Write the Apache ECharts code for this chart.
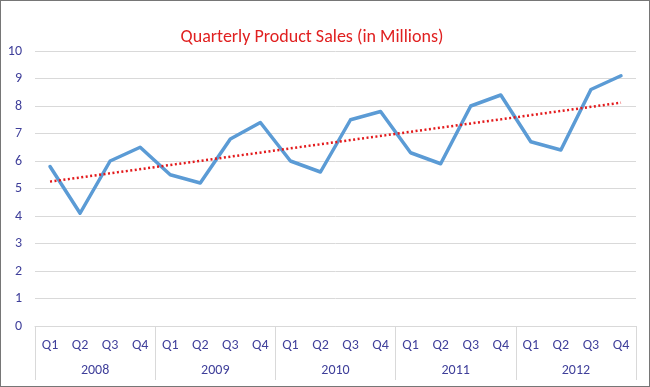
<!DOCTYPE html>
<html>
<head>
<meta charset="utf-8">
<script src="https://cdn.jsdelivr.net/npm/echarts@6/dist/echarts.min.js"></script>
<style>
html,body{margin:0;padding:0;background:#fff;}
#c{width:648px;height:385px;border:1px solid #767676;}
</style>
</head>
<body>
<div id="c"></div>
<script>
const quarters = ['Q1','Q2','Q3','Q4','Q1','Q2','Q3','Q4','Q1','Q2','Q3','Q4','Q1','Q2','Q3','Q4','Q1','Q2','Q3','Q4'];
const years = ['2008','2009','2010','2011','2012'];
const sales = [5.8,4.1,6.0,6.5, 5.5,5.2,6.8,7.4, 6.0,5.6,7.5,7.8, 6.3,5.9,8.0,8.4, 6.7,6.4,8.6,9.1];
const trendStart = 5.25;
const trendEnd = 8.12;
const yTicks = {min:0, max:10, interval:1};

const trend = quarters.map((q,i)=> i===0 ? trendStart : (i===quarters.length-1 ? trendEnd : null));
const font = "Carlito, 'Liberation Sans', sans-serif";
const labelColor = '#3f3f9a';

const chart = echarts.init(document.getElementById('c'));
chart.setOption({
  animation:false,
  title:{text:'Quarterly Product Sales (in Millions)', left:306, top:22, textAlign:'center',
    textStyle:{color:'#e02020', fontSize:18, fontWeight:'normal', fontFamily:font}},
  grid:{left:34, right:13, top:50, bottom:60, containLabel:false},
  xAxis:[{
    type:'category', data:quarters, boundaryGap:true,
    axisLine:{lineStyle:{color:'#d9d9d9', width:1}},
    axisTick:{show:false},
    axisLabel:{color:labelColor, fontFamily:font, fontSize:14, margin:12, interval:0}
  },{
    type:'category', data:years, position:'bottom', boundaryGap:true,
    axisLine:{show:false},
    axisTick:{show:true, length:54, alignWithLabel:false, lineStyle:{color:'#d9d9d9'}},
    axisLabel:{color:labelColor, fontFamily:font, fontSize:14, margin:37, interval:0}
  }],
  yAxis:{type:'value', min:yTicks.min, max:yTicks.max, interval:yTicks.interval,
    axisLine:{show:false}, axisTick:{show:false},
    axisLabel:{color:labelColor, fontFamily:font, fontSize:14, margin:13},
    splitLine:{lineStyle:{color:'#d9d9d9', width:1}}},
  series:[{
    type:'line', data:sales, xAxisIndex:0, symbol:'none',
    lineStyle:{color:'#5b9bd5', width:3.5, cap:'round', join:'round'}
  },{
    type:'line', data:trend, xAxisIndex:0, symbol:'none', connectNulls:true,
    lineStyle:{color:'#e31a1c', width:2.5, type:[2,2.5]}
  }]
});
</script>
</body>
</html>
